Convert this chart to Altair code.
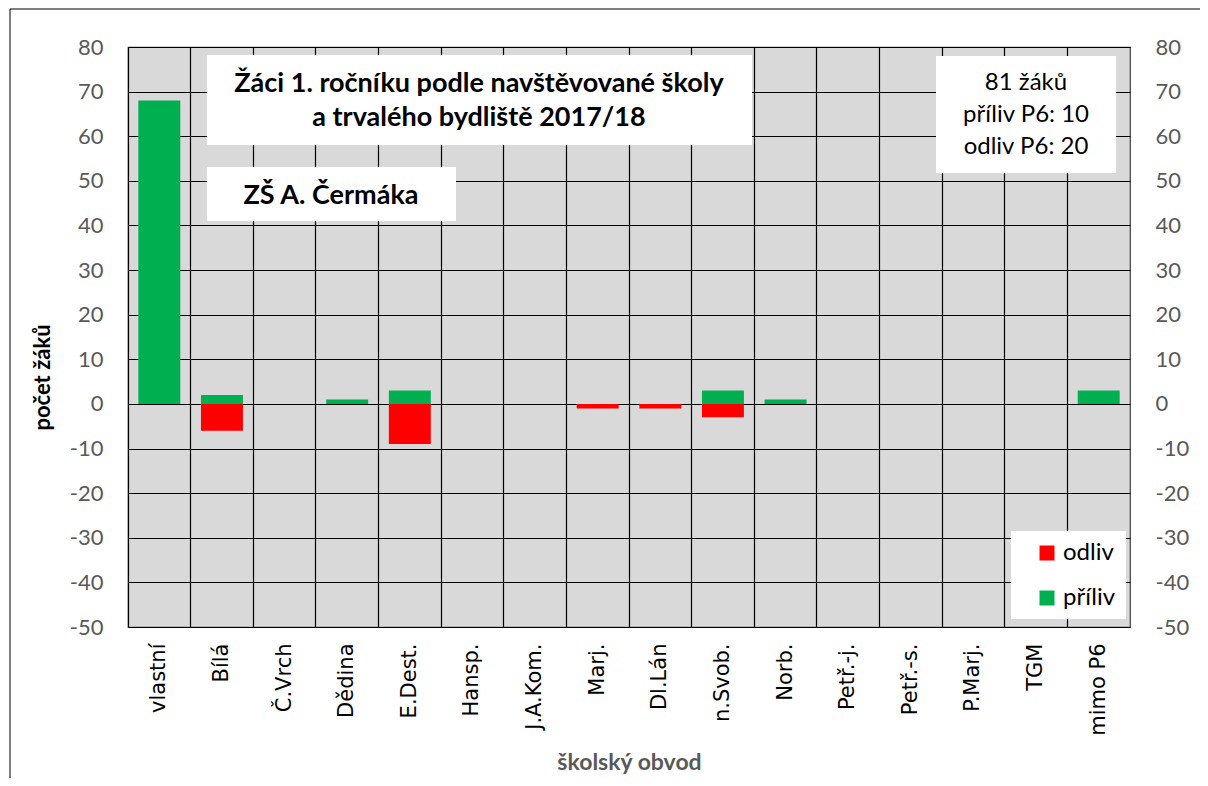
import altair as alt
import pandas as pd

categories = ["vlastní", "Bílá", "Č.Vrch", "Dědina", "E.Dest.", "Hansp.", "J.A.Kom.",
              "Marj.", "Dl.Lán", "n.Svob.", "Norb.", "Petř.-j.", "Petř.-s.", "P.Marj.",
              "TGM", "mimo P6"]
priliv = [68, 2, 0, 1, 3, 0, 0, 0, 0, 3, 1, 0, 0, 0, 0, 3]
odliv = [0, -6, 0, 0, -9, 0, 0, -1, -1, -3, 0, 0, 0, 0, 0, 0]
series = ["odliv", "příliv"]
colors = ["#FF0000", "#00B050"]
y_ticks = list(range(-50, 81, 10))

title_lines = ["Žáci 1. ročníku podle navštěvované školy", "a trvalého bydliště 2017/18"]
school = "ZŠ A. Čermáka"
info_lines = ["81 žáků", "příliv P6: 10", "odliv P6: 20"]

rows = []
for c, p, o in zip(categories, priliv, odliv):
    if p:
        rows.append({"obvod": c, "typ": "příliv", "pocet": p})
    if o:
        rows.append({"obvod": c, "typ": "odliv", "pocet": o})
df = pd.DataFrame(rows)
dummy = pd.DataFrame({"a": [0]})

W, H = 1002, 580
OX, OY = 128, 47  # page position of plot origin
GRID = "#000000"

xaxis = alt.Axis(title="školský obvod", labelAngle=270, labelAlign="right",
                 labelBaseline="middle", labelPadding=16, ticks=False,
                 labelFont="DejaVu Sans", labelFontSize=21, labelColor="#000000",
                 domain=False, grid=True, bandPosition=0, gridColor=GRID, gridOpacity=1,
                 gridWidth=1.2,
                 titleFont="Lato", titleFontSize=23, titleFontWeight="bold",
                 titleColor="#595959", titleY=135, titleBaseline="middle")
xscale = alt.Scale(domain=categories, paddingInner=0, paddingOuter=0)
yscale = alt.Scale(domain=[-50, 80], nice=False, zero=False)
ylabel = "'' + datum.value"

bars = alt.Chart(df).mark_bar(width={"band": 0.67}).encode(
    x=alt.X("obvod:N", sort=categories, scale=xscale, axis=xaxis),
    y=alt.Y("pocet:Q", scale=yscale,
            axis=alt.Axis(orient="left", values=y_ticks, title="počet žáků", grid=True,
                          gridColor=GRID, gridOpacity=1, gridWidth=1.2, ticks=False,
                          domain=False, labelPadding=25, labelExpr=ylabel,
                          labelFont="Lato", labelFontSize=22, labelColor="#595959",
                          titleFont="Lato", titleFontSize=22, titleFontWeight="bold",
                          titleColor="#000000", titleAngle=270, titleX=-86, titleY=330,
                          titleAlign="center", titleBaseline="middle")),
    color=alt.Color("typ:N", scale=alt.Scale(domain=series, range=colors),
                    legend=alt.Legend(orient="none", legendX=907, legendY=494, title=None,
                                      symbolType="square", symbolSize=225,
                                      symbolStrokeWidth=0, labelFont="Lato",
                                      labelFontSize=24, labelColor="#000000",
                                      labelOffset=4, rowPadding=21, padding=0)),
)

right = alt.Chart(df).mark_bar(opacity=0).encode(
    x=alt.X("obvod:N", sort=categories, scale=xscale, axis=xaxis),
    y=alt.Y("pocet:Q", scale=yscale,
            axis=alt.Axis(orient="right", values=y_ticks, title=None, grid=False,
                          ticks=False, domain=False, labelPadding=25, labelExpr=ylabel,
                          labelFont="Lato", labelFontSize=22, labelColor="#595959")),
)


def box(x0, y0, x1, y1):
    return alt.Chart(dummy).mark_rect(color="white").encode(
        x=alt.value(x0 - OX), x2=alt.value(x1 - OX),
        y=alt.value(y0 - OY), y2=alt.value(y1 - OY))


def label(txt, cx, cy, size, weight="normal"):
    return alt.Chart(dummy).mark_text(text=txt, font="Lato", fontSize=size,
                                      fontWeight=weight, color="#000000",
                                      align="center", baseline="middle").encode(
        x=alt.value(cx - OX), y=alt.value(cy - OY))


layers = [
    bars, right,
    box(207, 55, 752, 145), box(207, 167, 456, 221),
    box(936, 56, 1116, 173), box(1011, 531, 1126, 619),
    label(title_lines[0], 479, 84, 27, "bold"),
    label(title_lines[1], 479, 118, 27, "bold"),
    label(school, 331, 196, 27, "bold"),
    label(info_lines[0], 1026, 83, 24),
    label(info_lines[1], 1026, 115, 24),
    label(info_lines[2], 1026, 147, 24),
    alt.Chart(dummy).mark_rule(color="#000000", strokeWidth=1).encode(
        x=alt.value(10 - OX), y=alt.value(9 - OY), y2=alt.value(H + 160)),
    alt.Chart(dummy).mark_rule(color="#000000", strokeWidth=1).encode(
        x=alt.value(10 - OX), x2=alt.value(W + 80), y=alt.value(9 - OY)),
]

chart = alt.layer(*layers).resolve_axis(y="independent").properties(
    width=W, height=H,
    autosize=alt.AutoSizeParams(type="none"),
    padding={"left": 120, "top": 39, "right": 70, "bottom": 151},
).configure(background="white").configure_view(
    stroke="#404040", strokeWidth=1.2, fill="#D9D9D9"
).configure_axis(gridColor=GRID, gridOpacity=1)

chart.save("out.html", embed_options={"renderer": "svg", "actions": False})
